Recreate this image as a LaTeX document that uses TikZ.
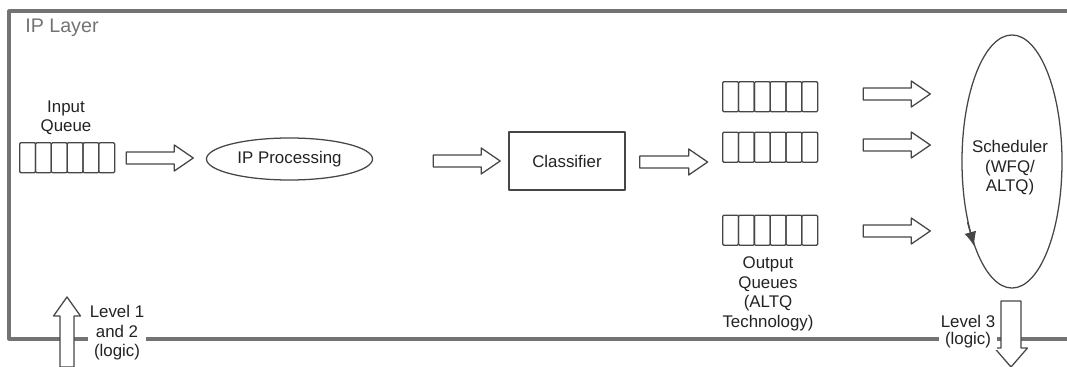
\documentclass[tikz,border=0pt]{standalone}
\usepackage{fontspec}
\setmainfont{Liberation Sans}
\usetikzlibrary{calc,arrows.meta,positioning,shapes.geometric}

% A queue of six slots, #1 name, #2 centre
\newcommand{\queue}[2]{%
	\node[qslot] (#1) at #2 {};
	\foreach \k in {0,...,5}
		\draw[qcell] ($(#1.north west)+(\k*15.83,0)$) rectangle ++(15.83,30);
}

% Hollow block arrow: #1 tail, #2 length, #3 direction, #4 half shaft, #5 half head
\newcommand{\fatarrow}[5]{%
	\draw[fat, shift={#1}, rotate=#3]
		(0,-#4) -- ({#2-19},-#4) -- ({#2-19},-#5) -- (#2,0)
		-- ({#2-19},#5) -- ({#2-19},#4) -- (0,#4) -- cycle;
}

\begin{document}
\begin{tikzpicture}[x=0.025cm, y=-0.025cm, >=latex, line join=round, line cap=round,
	every node/.style={font=\fontsize{12}{13.9}\selectfont, text=txtgray},
	frameline/.style={draw=framegray, line width=2.2pt},
	outline/.style={draw=edgegray, line width=0.9pt},
	qslot/.style={minimum width=2.375cm, minimum height=0.75cm, inner sep=0},
	qcell/.style={draw=edgegray, line width=0.9pt, rounded corners=0.8pt},
	fat/.style={draw=edgegray, fill=white, line width=0.9pt},
	txt/.style={align=center, inner sep=0},
	tag/.style={txt, fill=white, inner sep=1pt}]
	
	% Greys
	\definecolor{framegray}{RGB}{115, 115, 115}
	\definecolor{edgegray}{RGB}{70, 70, 70}
	\definecolor{txtgray}{RGB}{35, 35, 35}
	
	\useasboundingbox (0,0) rectangle (1067,367);
	
	% 1. Layer frame (open to the right)
	\draw[frameline] (1067,11) -- (9,11) -- (9,339) -- (1067,339);
	\node[anchor=base west, inner sep=0, text=framegray,
		font=\fontsize{14}{16}\selectfont] (layer) at (25,33) {IP Layer};
	
	% 2. Input queue
	\queue{inq}{(67.5,158)}
	\node[txt] (inlbl) at (66,118) {Input\\Queue};
	
	% 3. Processing and classifying
	\node[ellipse, outline, minimum width=4.15cm, minimum height=1.05cm, inner sep=0]
		(proc) at (289.5,159) {IP Processing};
	\node[rectangle, outline, minimum width=2.9cm, minimum height=1.45cm, inner sep=0]
		(cls) at (567,161) {Classifier};
	
	% 4. Output queues
	\queue{q1}{(770.5,97)}
	\queue{q2}{(770.5,147.5)}
	\queue{q3}{(770.5,230.5)}
	\node[txt] (outlbl) at (768,294) {Output\\Queues\\(ALTQ\\Technology)};
	
	% 5. Scheduler with its direction mark
	\node[ellipse, outline, minimum width=2.5cm, minimum height=6.325cm, inner sep=0]
		(sched) at (1012,161.5) {};
	\node[txt] (schedlbl) at (1010,168) {Scheduler\\(WFQ/\\ALTQ)};
	\draw[outline, -{Latex[length=0.36cm, width=0.3cm]}] (sched.234) -- (sched.246);
	
	% 6. Block arrows along the data path
	\fatarrow{($(inq.east)+(11,0)$)}{67}{0}{6}{13}
	\fatarrow{($(proc.east)+(60,2)$)}{67}{0}{6}{13}
	\fatarrow{($(cls.east)+(14,1)$)}{68}{0}{6}{13}
	\fatarrow{($(q1.east)+(45,-3)$)}{67}{0}{6}{13}
	\fatarrow{($(q2.east)+(45,-2.5)$)}{67}{0}{6}{13}
	\fatarrow{($(q3.east)+(45,0.5)$)}{67}{0}{6}{13}
	
	% 7. Entry from below and exit downwards
	\fatarrow{(67,367)}{70}{90}{7}{13.5}
	\node[tag] (lvlin) at (117,333) {Level 1\\and 2\\(logic)};
	\fatarrow{(1011,301)}{66}{-90}{10}{16.5}
	\node[tag, font=\fontsize{12}{12}\selectfont] (lvlout) at (968,332) {Level 3\\(logic)};
	
\end{tikzpicture}
\end{document}
